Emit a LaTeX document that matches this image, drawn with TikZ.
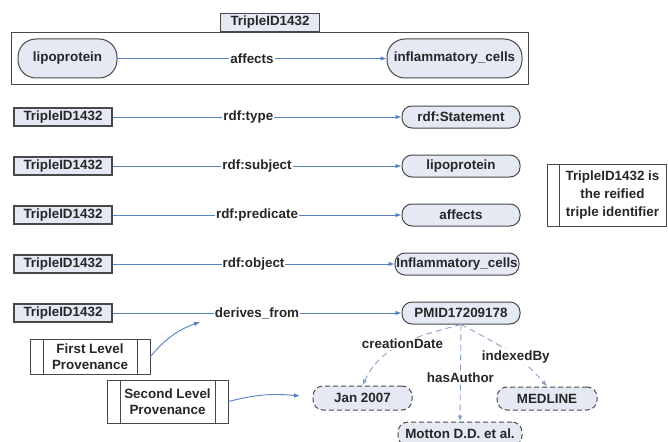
\documentclass[tikz,border=0pt]{standalone}
\usepackage{fontspec}
\setmainfont{Liberation Sans}
\usepackage{tikz}
\usetikzlibrary{positioning, fit, calc, arrows.meta}
\definecolor{boxfill}{RGB}{228,233,244}
\definecolor{boxline}{RGB}{72,72,72}
\definecolor{linkblue}{RGB}{84,130,190}
\definecolor{dashblue}{RGB}{135,160,200}

\tikzset{
	every node/.style={font=\fontsize{13.4}{16}\selectfont\bfseries, text=black!85},
	idbox/.style={draw=boxline, fill=boxfill, line width=1.1pt, minimum width=98pt, minimum height=18pt, inner sep=0pt},
	resnode/.style={draw=boxline, fill=boxfill, line width=1pt, rounded corners=10pt, minimum width=118pt, minimum height=22pt, inner sep=0pt},
	litnode/.style={resnode, dash pattern=on 5pt off 3pt},
	framebox/.style={draw=boxline, line width=1.1pt, inner sep=6pt},
	link/.style={draw=linkblue, line width=0.9pt, -{Latex[length=6pt,width=4.5pt]}},
	dlink/.style={link, draw=dashblue, dash pattern=on 6pt off 4pt},
	elabel/.style={fill=white, inner sep=1pt},
	provbox/.style={draw=boxline, line width=1pt, align=center, inner sep=0pt,
		path picture={
			\draw[boxline, line width=1pt] ([xshift=13pt]path picture bounding box.north west) -- ([xshift=13pt]path picture bounding box.south west);
			\draw[boxline, line width=1pt] ([xshift=-13pt]path picture bounding box.north east) -- ([xshift=-13pt]path picture bounding box.south east);}},
	notebox/.style={draw=boxline, line width=1pt, inner sep=0pt, font=\fontsize{13.4}{18}\selectfont\bfseries,
		path picture={
			\draw[boxline, line width=1pt] ([xshift=12pt]path picture bounding box.north west) -- ([xshift=12pt]path picture bounding box.south west);}}
}

\begin{document}
\begin{tikzpicture}[x=1pt, y=1pt]
	\useasboundingbox (0,0) rectangle (668,-441);
	\pgfmathsetmacro{\idx}{63}
	\pgfmathsetmacro{\objx}{461}
	\pgfmathsetmacro{\rowgap}{49}

	% reified triple
	\node[resnode, minimum width=99pt, minimum height=39pt, rounded corners=18pt] (lipo) at (67.5,-58.5) {lipoprotein};
	\node[resnode, minimum width=135pt, minimum height=39pt, rounded corners=18pt] (infl) at (454.5,-58.5) {inflammatory\_cells};
	\draw[link] (lipo) -- node[elabel] {affects} (infl);
	\node[framebox, fit=(lipo)(infl)] (frame) {};
	\node[idbox, minimum width=99pt, above=0pt of frame] (tid0) {TripleID1432};

	\node[idbox] (t1) at (\idx,-117) {TripleID1432};
	\node[resnode] (o1) at (\objx,-117) {rdf:Statement};
	\draw[link] (t1) -- node[elabel, pos=.47] {rdf:type} (o1);

	\node[idbox] (t2) at (\idx,-117-\rowgap) {TripleID1432};
	\node[resnode] (o2) at (\objx,-117-\rowgap) {lipoprotein};
	\draw[link] (t2) -- node[elabel] {rdf:subject} (o2);

	\node[idbox] (t3) at (\idx,-117-2*\rowgap) {TripleID1432};
	\node[resnode] (o3) at (\objx,-117-2*\rowgap) {affects};
	\draw[link] (t3) -- node[elabel] {rdf:predicate} (o3);

	\node[idbox] (t4) at (\idx,-117-3*\rowgap) {TripleID1432};
	\node[resnode, minimum width=124pt] (o4) at (457,-117-3*\rowgap) {Inflammatory\_cells};
	\draw[link] (t4) -- node[elabel] {rdf:object} (o4);

	\node[idbox] (t5) at (\idx,-117-4*\rowgap) {TripleID1432};
	\node[resnode] (o5) at (\objx,-117-4*\rowgap) {PMID17209178};
	\draw[link] (t5) -- node[elabel] {derives\_from} (o5);

	% second level
	\node[litnode, minimum width=99pt, minimum height=24pt] (jan) at (362.5,-398) {Jan 2007};
	\node[litnode, minimum width=100pt, minimum height=23pt] (medline) at (547,-398.5) {MEDLINE};
	\node[litnode, minimum width=124pt, minimum height=24pt] (motton) at (460,-434) {Motton D.D. et al.};
	\draw[dlink] (o5.south) to[out=195, in=65] node[elabel] {creationDate} (jan.north);
	\draw[dlink] (o5.south) -- node[elabel, pos=.55] {hasAuthor} (motton.north);
	\draw[dlink] (o5.south) to[out=-28, in=130] node[elabel, pos=.6] {indexedBy} (medline.north);

	% notes
	\node[notebox, minimum width=119pt, minimum height=62pt] (note) at (606.5,-195) {\hspace*{12pt}\begin{tabular}{@{}c@{}}TripleID1432 is\\the reified\\triple identifier\end{tabular}};
	\node[provbox, minimum width=120pt, minimum height=35pt] (first) at (90,-356.5) {First Level\\Provenance};
	\node[provbox, minimum width=121pt, minimum height=43pt] (second) at (167.5,-401.5) {Second Level\\Provenance};
	\coordinate (firstend) at (200,-322);
	\coordinate (secondend) at (300,-396);
	\draw[link] (first.east) to[bend left=15] (firstend);
	\draw[link] (second.east) to[bend left=10] (secondend);
\end{tikzpicture}
\end{document}
